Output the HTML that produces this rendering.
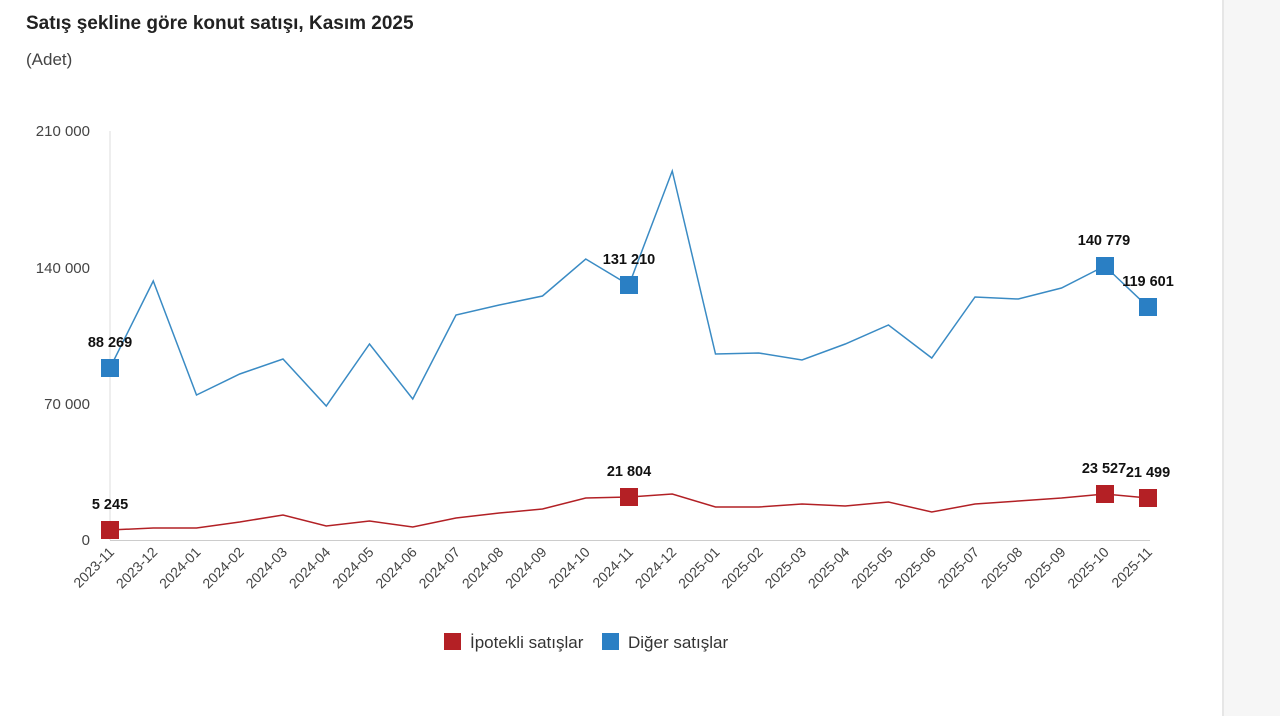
<!DOCTYPE html>
<html><head><meta charset="utf-8"><style>
body{margin:0;background:#fff;width:1280px;height:716px;overflow:hidden;font-family:"Liberation Sans",sans-serif}
</style></head><body>
<svg width="1280" height="716" xmlns="http://www.w3.org/2000/svg" font-family="Liberation Sans, sans-serif">
<rect x="1222" y="0" width="58" height="716" fill="#f6f6f6"/>
<rect x="1222" y="0" width="2" height="716" fill="#e6e6e6"/>
<text x="26" y="29" font-size="19" font-weight="bold" fill="#222">Satış şekline göre konut satışı, Kasım 2025</text>
<text x="26" y="65" font-size="17" fill="#444">(Adet)</text>
<g font-size="15" fill="#444" text-anchor="end">
<text x="90" y="136">210 000</text><text x="90" y="273">140 000</text><text x="90" y="409">70 000</text><text x="90" y="545">0</text>
</g>
<line x1="110" y1="131" x2="110" y2="540" stroke="#ddd"/>
<line x1="110" y1="540.5" x2="1150" y2="540.5" stroke="#ccc"/>
<polyline fill="none" stroke="#3a8bc4" stroke-width="1.5" points="110,368 153.25,281 196.5,395 239.75,374 283,359 326.25,406 369.5,344 412.75,399 456,315 499.25,305 542.5,296 585.75,259 629,285 672.25,171 715.5,354 758.75,353 802,360 845.25,344 888.5,325 931.75,358 975,297 1018.25,299 1061.5,288 1104.75,266 1148,307"/>
<polyline fill="none" stroke="#b22025" stroke-width="1.5" points="110,530 153.25,528 196.5,528 239.75,522 283,515 326.25,526 369.5,521 412.75,527 456,518 499.25,513 542.5,509 585.75,498 629,497 672.25,494 715.5,507 758.75,507 802,504 845.25,506 888.5,502 931.75,512 975,504 1018.25,501 1061.5,498 1104.75,494 1148,498"/>
<g fill="#2a7fc4">
<rect x="101" y="359" width="18" height="18"/><rect x="620" y="276" width="18" height="18"/><rect x="1096" y="257" width="18" height="18"/><rect x="1139" y="298" width="18" height="18"/>
</g>
<g fill="#b42025">
<rect x="101" y="521" width="18" height="18"/><rect x="620" y="488" width="18" height="18"/><rect x="1096" y="485" width="18" height="18"/><rect x="1139" y="489" width="18" height="18"/>
</g>
<g font-size="14.5" font-weight="bold" fill="#111" text-anchor="middle">
<text x="110" y="347">88 269</text><text x="629" y="264">131 210</text><text x="1104" y="245">140 779</text><text x="1148" y="286">119 601</text>
<text x="110" y="509">5 245</text><text x="629" y="476">21 804</text><text x="1104" y="473">23 527</text><text x="1148" y="477">21 499</text>
</g>
<g font-size="14" fill="#444" text-anchor="end">
<text transform="translate(115,553) rotate(-45)">2023-11</text>
<text transform="translate(158.25,553) rotate(-45)">2023-12</text>
<text transform="translate(201.5,553) rotate(-45)">2024-01</text>
<text transform="translate(244.75,553) rotate(-45)">2024-02</text>
<text transform="translate(288,553) rotate(-45)">2024-03</text>
<text transform="translate(331.25,553) rotate(-45)">2024-04</text>
<text transform="translate(374.5,553) rotate(-45)">2024-05</text>
<text transform="translate(417.75,553) rotate(-45)">2024-06</text>
<text transform="translate(461,553) rotate(-45)">2024-07</text>
<text transform="translate(504.25,553) rotate(-45)">2024-08</text>
<text transform="translate(547.5,553) rotate(-45)">2024-09</text>
<text transform="translate(590.75,553) rotate(-45)">2024-10</text>
<text transform="translate(634,553) rotate(-45)">2024-11</text>
<text transform="translate(677.25,553) rotate(-45)">2024-12</text>
<text transform="translate(720.5,553) rotate(-45)">2025-01</text>
<text transform="translate(763.75,553) rotate(-45)">2025-02</text>
<text transform="translate(807,553) rotate(-45)">2025-03</text>
<text transform="translate(850.25,553) rotate(-45)">2025-04</text>
<text transform="translate(893.5,553) rotate(-45)">2025-05</text>
<text transform="translate(936.75,553) rotate(-45)">2025-06</text>
<text transform="translate(980,553) rotate(-45)">2025-07</text>
<text transform="translate(1023.25,553) rotate(-45)">2025-08</text>
<text transform="translate(1066.5,553) rotate(-45)">2025-09</text>
<text transform="translate(1109.75,553) rotate(-45)">2025-10</text>
<text transform="translate(1153,553) rotate(-45)">2025-11</text>
</g>
<rect x="444" y="633" width="17" height="17" fill="#b42025"/>
<text x="470" y="648" font-size="17" fill="#333">İpotekli satışlar</text>
<rect x="602" y="633" width="17" height="17" fill="#2a7fc4"/>
<text x="628" y="648" font-size="17" fill="#333">Diğer satışlar</text>
</svg>
</body></html>
